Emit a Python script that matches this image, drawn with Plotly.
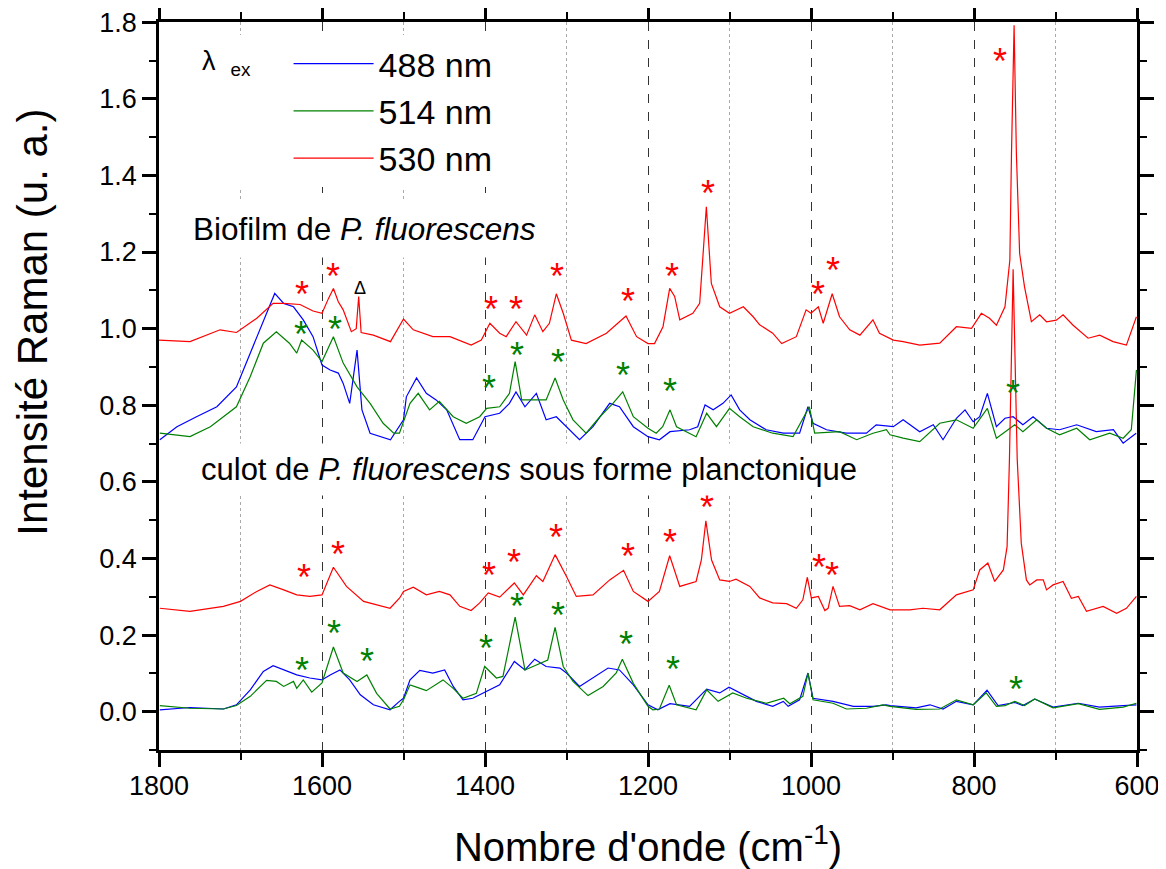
import plotly.graph_objects as go

# ---------------- data (wavenumber cm-1, Raman intensity a.u.) ----------------
biofilm_488 = [(1799,0.710),(1778,0.744),(1754,0.770),(1729,0.796),(1705,0.848),(1688,0.936),(1672,1.023),
 (1658,1.092),(1647,1.066),(1635,1.057),(1623,1.023),(1611,0.979),(1600,0.905),(1590,0.892),(1580,0.884),
 (1574,0.857),(1566,0.805),(1557,0.944),(1551,0.788),(1541,0.727),(1516,0.710),(1505,0.744),(1500,0.762),
 (1496.5,0.822),(1484,0.871),(1472,0.831),(1460,0.814),(1447,0.788),(1431,0.710),(1415,0.710),(1400,0.770),
 (1382,0.779),(1370,0.805),(1362,0.835),(1351,0.796),(1337,0.831),(1325,0.762),(1312.5,0.770),(1300,0.744),
 (1284,0.710),(1267.5,0.744),(1247,0.805),(1235,0.796),(1218,0.744),(1200,0.718),(1186,0.710),(1173,0.731),
 (1149,0.736),(1139,0.744),(1130,0.801),(1120,0.788),(1108,0.805),(1098,0.827),(1087.5,0.788),(1075,0.762),
 (1055,0.736),(1034,0.727),(1014,0.727),(1003.7,0.796),(997.5,0.753),(981,0.736),(957,0.727),(932,0.727),
 (920,0.749),(899,0.744),(887,0.762),(866.6,0.731),(850,0.749),(838,0.710),(821.6,0.766),(811,0.788),
 (801,0.757),(793,0.770),(783.6,0.831),(772.5,0.744),(762,0.766),(752,0.770),(740,0.749),(727.5,0.770),
 (711,0.740),(695,0.736),(674,0.749),(650,0.731),(629,0.736),(617,0.701),(601,0.727)]

biofilm_514 = [(1799,0.727),(1762,0.718),(1737,0.744),(1705,0.796),(1688,0.875),(1672,0.962),(1656,0.992),
 (1640,0.962),(1631,0.936),(1625,0.970),(1611,0.944),(1600,0.914),(1586,0.979),(1574,0.910),(1557,0.848),
 (1541,0.805),(1525,0.753),(1512,0.727),(1505,0.727),(1492,0.805),(1482,0.831),(1468,0.788),(1456,0.810),
 (1439,0.770),(1423,0.753),(1406.5,0.770),(1398,0.792),(1382,0.796),(1370,0.831),(1363,0.914),(1355,0.814),
 (1341,0.814),(1325,0.814),(1314,0.871),(1304,0.814),(1292,0.762),(1276,0.727),(1259,0.770),(1243,0.805),
 (1231,0.835),(1218,0.770),(1200,0.740),(1190,0.727),(1182,0.744),(1173,0.788),(1165,0.744),(1141,0.718),
 (1128,0.779),(1116,0.744),(1100,0.792),(1087.5,0.770),(1071,0.744),(1047,0.727),(1022,0.718),(1002,0.796),
 (995.5,0.727),(965,0.731),(944,0.710),(924,0.727),(907.5,0.736),(903,0.723),(887,0.714),(866.6,0.705),
 (842,0.753),(821.6,0.762),(801,0.740),(783.6,0.792),(772.5,0.714),(756,0.740),(750,0.749),(740,0.731),
 (723,0.762),(711,0.740),(695,0.723),(674,0.740),(658,0.710),(633.5,0.727),(617,0.714),(607,0.736),(600.7,0.892)]

biofilm_530 = [(1800,0.970),(1762,0.966),(1725,0.997),(1705,0.990),(1680,1.027),(1660,1.066),(1647,1.066),
 (1627,1.063),(1611,1.046),(1600,1.040),(1592,1.079),(1586,1.105),(1580,1.070),(1574,1.049),(1564,0.992),
 (1558,1.000),(1555,1.084),(1552,0.990),(1537,0.983),(1516,0.966),(1500,1.025),(1488,0.997),(1464,0.979),
 (1443,0.979),(1417,0.957),(1404.5,0.970),(1394,1.014),(1382,0.988),(1374,0.979),(1362,1.018),(1349,0.983),
 (1339,1.036),(1329,0.992),(1321,1.014),(1312.5,1.091),(1304,1.040),(1294,0.970),(1276,0.961),(1251,0.988),
 (1227,1.033),(1214,0.979),(1200,0.961),(1192,0.961),(1181.6,1.005),(1173.4,1.105),(1167.3,1.084),
 (1161,1.023),(1145,1.040),(1136.6,1.066),(1128.4,1.318),(1122.3,1.118),(1112,1.057),(1100,1.040),
 (1083,1.057),(1071,1.031),(1063,1.010),(1047,0.988),(1036,0.961),(1018,0.979),(1006,1.049),(1000,1.040),
 (991,1.057),(985,1.014),(974,1.091),(965,1.031),(952.5,0.997),(940,0.983),(924,1.023),(916,0.988),
 (899,0.970),(887,0.966),(866.6,0.957),(842,0.962),(821.6,1.005),(803,1.001),(791,1.040),(781,1.027),
 (772.5,1.009),(762,1.057),(756,1.179),(754,1.458),(750.8,1.792),(748,1.458),(744,1.196),(738,1.109),
 (729.6,1.018),(719.4,1.036),(711,1.018),(699,1.022),(690.7,1.036),(678.4,1.009),(660,0.975),(645.7,0.983),
 (629.4,0.966),(613,0.957),(600.7,1.031)]

plancton_488 = [(1799,0.005),(1762,0.011),(1721,0.007),(1705,0.018),(1688,0.057),(1672,0.105),(1660,0.120),
 (1647,0.109),(1631,0.096),(1615,0.088),(1600,0.083),(1590,0.096),(1578,0.109),(1566,0.083),(1553,0.044),
 (1537,0.018),(1516.5,0.005),(1505,0.027),(1500,0.035),(1492,0.083),(1480,0.108),(1464,0.101),(1449.5,0.109),
 (1439,0.066),(1427,0.031),(1415,0.035),(1398,0.053),(1382,0.070),(1364,0.131),(1351,0.109),(1339,0.137),
 (1325,0.118),(1308,0.114),(1300,0.101),(1284,0.066),(1267.5,0.088),(1249,0.114),(1235,0.109),(1218,0.070),
 (1200,0.018),(1188,0.005),(1173,0.021),(1149,0.014),(1128,0.059),(1112,0.049),(1100.6,0.064),(1087.5,0.049),
 (1067,0.027),(1047,0.014),(1034,0.027),(1028,0.014),(1014,0.031),(1003.7,0.101),(997.5,0.035),(973,0.027),
 (948,0.014),(924,0.014),(907.5,0.018),(903,0.016),(871,0.010),(854,0.018),(838,0.007),(821.6,0.027),
 (801,0.018),(784,0.056),(770.5,0.016),(750,0.024),(740,0.016),(725.5,0.033),(703,0.012),(672,0.022),
 (646,0.012),(617,0.016),(600.7,0.018)]

plancton_514 = [(1799,0.016),(1762,0.009),(1721,0.007),(1705,0.016),(1688,0.040),(1668,0.082),(1656,0.079),
 (1647,0.066),(1635,0.079),(1631,0.061),(1623,0.083),(1612.6,0.051),(1600,0.075),(1586,0.169),(1574,0.101),
 (1557,0.079),(1545,0.096),(1533,0.048),(1516.5,0.007),(1505,0.014),(1500,0.031),(1492,0.070),(1484,0.064),
 (1472,0.055),(1451.5,0.083),(1439,0.061),(1427,0.035),(1410.6,0.048),(1400.4,0.118),(1386,0.088),(1378,0.092),
 (1363,0.247),(1351,0.109),(1333,0.127),(1323,0.135),(1314,0.220),(1304,0.118),(1292,0.079),(1273.6,0.042),
 (1255,0.066),(1239,0.101),(1231.5,0.137),(1218,0.074),(1200,0.014),(1194,0.005),(1186,0.007),(1174,0.069),
 (1165,0.018),(1141,0.005),(1128,0.057),(1114,0.027),(1096,0.049),(1079,0.035),(1055,0.022),(1033.5,0.035),
 (1026,0.021),(1010,0.040),(1003.7,0.101),(997.5,0.031),(973,0.022),(956.6,0.007),(932,0.009),(911.6,0.018),
 (903,0.014),(871,0.006),(842,0.007),(821.6,0.031),(801,0.018),(785,0.049),(772.5,0.014),(762,0.016),
 (750,0.027),(738,0.016),(725.5,0.033),(703,0.010),(672,0.021),(646,0.006),(617,0.012),(600.7,0.022)]

plancton_530 = [(1799,0.270),(1762,0.262),(1721,0.275),(1700,0.288),(1680,0.314),(1664,0.331),(1647,0.318),
 (1631,0.305),(1615,0.301),(1600,0.305),(1586,0.377),(1570,0.327),(1549,0.288),(1533,0.279),(1516.5,0.270),
 (1504.7,0.297),(1500,0.314),(1488,0.325),(1472,0.305),(1456,0.314),(1443,0.305),(1431,0.275),(1417,0.264),
 (1406.5,0.284),(1396,0.310),(1382,0.299),(1364,0.336),(1353,0.305),(1337,0.355),(1329,0.340),(1314,0.410),
 (1300,0.353),(1288,0.301),(1267.5,0.305),(1247,0.344),(1230,0.369),(1218,0.314),(1200,0.288),(1186,0.314),
 (1173.4,0.407),(1161,0.327),(1141,0.340),(1134.5,0.396),(1129,0.498),(1122,0.396),(1112,0.344),(1100,0.340),
 (1092,0.346),(1075,0.327),(1063,0.297),(1047,0.284),(1030,0.282),(1018,0.270),(1010,0.292),(1004.5,0.351),
 (999.6,0.297),(991,0.301),(983,0.264),(979,0.270),(973,0.327),(965,0.275),(952.5,0.277),(940,0.266),
 (924,0.282),(907.5,0.268),(903,0.266),(879,0.266),(862.5,0.270),(842,0.266),(821.6,0.305),(801,0.318),
 (793,0.370),(783,0.388),(774.6,0.340),(764,0.370),(759.4,0.431),(756.5,0.660),(752,1.155),(747,0.660),
 (742,0.440),(735.7,0.344),(731.6,0.331),(723,0.344),(715,0.344),(711,0.318),(703,0.331),(690.7,0.340),
 (680.5,0.296),(672,0.301),(662,0.262),(641.6,0.275),(625,0.257),(613,0.270),(600.7,0.301)]

# band markers (*) : (wavenumber, height)
stars_biofilm_530 = [(1625,1.101),(1587,1.148),(1393,1.062),(1362,1.062),(1312,1.148),(1225,1.085),
                     (1170,1.148),(1127,1.367),(992,1.101),(973,1.166),(768.5,1.711)]
stars_biofilm_514 = [(1625.4,0.997),(1583.6,1.011),(1395.5,0.858),(1361,0.944),(1310.4,0.924),
                     (1230.7,0.891),(1172.5,0.849),(752,0.845)]
stars_plancton_530 = [(1621.6,0.363),(1580,0.424),(1395,0.369),(1364.8,0.403),(1313.3,0.468),
                      (1224.5,0.418),(1172.5,0.456),(1127.1,0.546),(990.6,0.390),(973.8,0.369)]
stars_plancton_514 = [(1624.9,0.121),(1584.8,0.218),(1545.2,0.144),(1398.3,0.177),(1360.8,0.288),
                      (1310,0.264),(1227.4,0.188),(1169.3,0.123),(748,0.070)]
delta_mark = (1553, 1.105)

series_names = ["488 nm", "514 nm", "530 nm"]
colors = {"488 nm": "#0000ff", "514 nm": "#008000", "530 nm": "#ff0000"}
x_ticks = [1800, 1600, 1400, 1200, 1000, 800, 600]
x_minor = [1700, 1500, 1300, 1100, 900, 700]
y_ticks = [0.0, 0.2, 0.4, 0.6, 0.8, 1.0, 1.2, 1.4, 1.6, 1.8]
y_tick_labels = ["0.0", "0.2", "0.4", "0.6", "0.8", "1.0", "1.2", "1.4", "1.6", "1.8"]

FONT = "Arial, 'Liberation Sans', sans-serif"

fig = go.Figure()

def add(series, name, show):
    fig.add_trace(go.Scatter(
        x=[p[0] for p in series], y=[p[1] for p in series], mode="lines", name=name,
        legendgroup=name, showlegend=show, line=dict(color=colors[name], width=1.2)))

add(biofilm_488, "488 nm", True)
add(biofilm_514, "514 nm", True)
add(biofilm_530, "530 nm", True)
add(plancton_488, "488 nm", False)
add(plancton_514, "514 nm", False)
add(plancton_530, "530 nm", False)

annotations = []
def stars(lst, col):
    for (x, y) in lst:
        annotations.append(dict(x=x, y=y, xref="x", yref="y", text="*", showarrow=False,
                                font=dict(size=36, color=col, family=FONT), yshift=-5))
stars(stars_biofilm_530, colors["530 nm"])
stars(stars_biofilm_514, colors["514 nm"])
stars(stars_plancton_530, colors["530 nm"])
stars(stars_plancton_514, colors["514 nm"])
annotations.append(dict(x=delta_mark[0], y=delta_mark[1], xref="x", yref="y", text="Δ", showarrow=False,
                        font=dict(size=18, color="black", family=FONT)))
annotations.append(dict(x=1772, y=1.26, xref="x", yref="y", xanchor="left", yanchor="middle",
                        text="Biofilm de <i>P. fluorescens</i>", showarrow=False, bgcolor="white",
                        borderpad=10, font=dict(size=31.5, color="black", family=FONT)))
annotations.append(dict(x=1760, y=0.631, xref="x", yref="y", xanchor="left", yanchor="middle",
                        text="culot de <i>P. fluorescens</i> sous forme planctonique", showarrow=False,
                        bgcolor="white", borderpad=8, font=dict(size=31, color="black", family=FONT)))
# y axis title (placed off-centre, as in the original figure)
annotations.append(dict(x=-0.1288, y=0.587, xref="paper", yref="paper", xanchor="center", yanchor="middle",
                        text="Intensité Raman (u. a.)", textangle=-90, showarrow=False,
                        font=dict(size=42, color="black", family=FONT)))

# the page body adds an 8 px offset, so the figure is 8 px smaller than the window
fig.update_layout(
    width=1158, height=861,
    margin=dict(l=151, r=29, t=14, b=119, autoexpand=False),
    plot_bgcolor="white", paper_bgcolor="white",
    font=dict(family=FONT, color="black"),
    annotations=annotations,
    legend=dict(x=0.042, y=0.982, xanchor="left", yanchor="top", bgcolor="white",
                font=dict(size=34, family=FONT, color="black"), tracegroupgap=0,
                title=dict(text="λ&nbsp;&nbsp;<sub>ex</sub>&nbsp;&nbsp;&nbsp;&nbsp;", side="left",
                           font=dict(size=27, family=FONT)),
                itemwidth=80),
    xaxis=dict(range=[1800, 600], tickvals=x_ticks, ticks="outside", ticklen=14, tickwidth=2.5,
               tickcolor="black", showline=True, linewidth=2.5, linecolor="black", mirror="ticks",
               tickfont=dict(size=27, family=FONT, color="black"), automargin=False,
               ticklabelstandoff=-4, ticklabeloverflow="allow",
               showgrid=True, gridcolor="#333333", griddash="dash", gridwidth=1.3, zeroline=False,
               minor=dict(tickvals=x_minor, ticks="outside", ticklen=7, tickwidth=2, tickcolor="black",
                          showgrid=True, gridcolor="#aaaaaa", griddash="dot", gridwidth=1),
               title=dict(text="Nombre d'onde (cm<sup>-1</sup>)", font=dict(size=40, family=FONT),
                          standoff=42)),
    yaxis=dict(range=[-0.1, 1.8005], tickvals=y_ticks, ticktext=y_tick_labels, ticks="outside", ticklen=14,
               tickwidth=2.5, tickcolor="black", showline=True, linewidth=2.5, linecolor="black",
               mirror="ticks", showgrid=False, zeroline=False, automargin=False,
               ticklabeloverflow="allow",
               tickfont=dict(size=27, family=FONT, color="black"),
               minor=dict(dtick=0.1, tick0=0, ticks="outside", ticklen=7, tickwidth=2, tickcolor="black")),
)

fig.write_html("out.html")
